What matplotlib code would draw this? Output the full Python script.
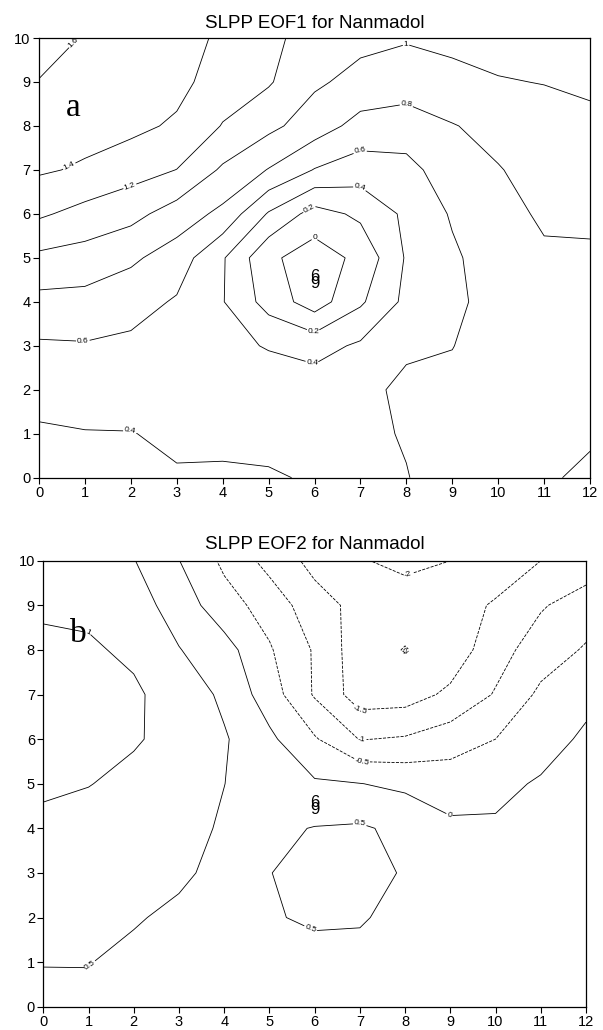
import matplotlib
matplotlib.use('Agg')
import matplotlib.pyplot as plt

plt.rcParams['font.family'] = ['Liberation Sans', 'DejaVu Sans']

# grid of the field (lon / lat index)
x_grid = [0, 1, 2, 3, 4, 5, 6, 7, 8, 9, 10, 11, 12]
y_grid = [0, 1, 2, 3, 4, 5, 6, 7, 8, 9, 10]

# EOF1 values, one row per y (bottom to top)
eof1 = [
    [0.30, 0.30, 0.32, 0.385, 0.37, 0.38, 0.42, 0.53, 0.595, 0.66, 0.72, 0.78, 0.83],
    [0.37, 0.39, 0.395, 0.43, 0.45, 0.46, 0.50, 0.57, 0.61, 0.67, 0.72, 0.77, 0.78],
    [0.48, 0.50, 0.478, 0.48, 0.47, 0.48, 0.50, 0.55, 0.64, 0.65, 0.71, 0.75, 0.76],
    [0.575, 0.585, 0.56, 0.53, 0.44, 0.39, 0.33, 0.43, 0.57, 0.595, 0.70, 0.74, 0.76],
    [0.742, 0.735, 0.676, 0.58, 0.41, 0.12, -0.10, 0.17, 0.45, 0.55, 0.69, 0.75, 0.77],
    [0.957, 0.92, 0.835, 0.705, 0.42, 0.04, -0.10, 0.05, 0.42, 0.57, 0.70, 0.77, 0.785],
    [1.23, 1.133, 1.062, 0.91, 0.75, 0.38, 0.12, 0.24, 0.44, 0.62, 0.73, 0.83, 0.82],
    [1.424, 1.375, 1.28, 1.197, 0.97, 0.79, 0.59, 0.50, 0.53, 0.72, 0.79, 0.87, 0.89],
    [1.51, 1.47, 1.45, 1.37, 1.19, 1.05, 0.90, 0.73, 0.72, 0.79, 0.86, 0.93, 0.96],
    [1.595, 1.54, 1.47, 1.46, 1.30, 1.22, 1.03, 0.94, 0.88, 0.94, 0.99, 1.005, 1.03],
    [1.66, 1.59, 1.52, 1.47, 1.37, 1.26, 1.10, 1.05, 1.02, 1.05, 1.06, 1.06, 1.08],
]

# EOF2 values
eof2 = [
    [0.42, 0.43, 0.36, 0.30, 0.25, 0.26, 0.30, 0.32, 0.30, 0.28, 0.27, 0.28, 0.30],
    [0.51, 0.51, 0.42, 0.35, 0.30, 0.32, 0.38, 0.40, 0.35, 0.32, 0.30, 0.30, 0.30],
    [0.62, 0.62, 0.53, 0.43, 0.38, 0.47, 0.55, 0.53, 0.40, 0.32, 0.30, 0.30, 0.30],
    [0.75, 0.75, 0.67, 0.56, 0.40, 0.49, 0.65, 0.63, 0.47, 0.30, 0.27, 0.27, 0.28],
    [0.90, 0.88, 0.80, 0.68, 0.44, 0.40, 0.52, 0.56, 0.38, 0.08, 0.06, 0.18, 0.25],
    [1.07, 1.01, 0.92, 0.78, 0.505, 0.25, 0.06, 0.01, -0.10, -0.20, -0.12, 0.05, 0.18],
    [1.15, 1.10, 1.03, 0.90, 0.55, 0.10, -0.45, -1.02, -0.95, -0.75, -0.50, -0.20, 0.08],
    [1.15, 1.12, 1.06, 0.82, 0.40, -0.25, -1.05, -1.75, -1.72, -1.40, -0.96, -0.40, -0.13],
    [1.07, 1.05, 0.93, 0.52, 0.20, -0.45, -1.05, -1.80, -2.02, -1.80, -1.20, -0.75, -0.45],
    [0.95, 0.92, 0.72, 0.28, -0.30, -0.70, -1.30, -1.65, -1.80, -1.70, -1.45, -1.05, -0.75],
    [0.85, 0.82, 0.52, 0.01, -0.60, -1.17, -1.65, -1.97, -2.10, -2.00, -1.77, -1.50, -1.30],
]

levels1 = [0, 0.2, 0.4, 0.6, 0.8, 1.0, 1.2, 1.4, 1.6]
levels2 = [-2, -1.5, -1, -0.5, 0, 0.5, 1]

# where the contour labels sit
labels1 = [(0.8, 9.85), (0.7, 7.0), (1.98, 6.62), (8.0, 9.83), (8.0, 8.49),
           (6.99, 7.43), (0.96, 3.2), (6.99, 6.66), (5.98, 2.72), (1.98, 1.06),
           (5.9, 6.08), (5.98, 3.33), (6.01, 5.74)]
labels2 = [(0.99, 8.38), (0.99, 0.96), (7.0, 4.2), (5.97, 1.88), (8.99, 4.32),
           (7.04, 5.53), (7.04, 6.03), (7.0, 6.65), (8.07, 9.68), (8.0, 8.0)]

storm_pos = (6.0, 4.5)

titles = ['SLPP EOF1 for Nanmadol', 'SLPP EOF2 for Nanmadol']
panel_tags = ['a', 'b']
tag_pos = [(0.74, 8.22), (0.77, 8.18)]

fig = plt.figure(figsize=(6.03, 10.30), dpi=100)
ax1 = fig.add_axes([0.0647, 0.5362, 0.9138, 0.4269])
ax2 = fig.add_axes([0.0718, 0.0226, 0.9000, 0.4330])

panels = [(ax1, eof1, levels1, labels1), (ax2, eof2, levels2, labels2)]
for i, (ax, field, levels, lab_pos) in enumerate(panels):
    styles = ['dashed' if lv < 0 else 'solid' for lv in levels]
    cs = ax.contour(x_grid, y_grid, field, levels=levels, colors='black',
                    linewidths=0.6, linestyles=styles)
    ax.clabel(cs, manual=lab_pos, inline=True, inline_spacing=1,
              fontsize=6, fmt='%g')

    # typhoon mark (6 over 9)
    ax.text(storm_pos[0], storm_pos[1], '6\n9', ha='center', va='center',
            fontsize=12, linespacing=0.3)

    ax.text(tag_pos[i][0], tag_pos[i][1], panel_tags[i], family='Liberation Serif',
            fontsize=24, ha='center', va='baseline')

    ax.set_xlim(0, 12)
    ax.set_ylim(0, 10)
    ax.set_xticks(x_grid)
    ax.set_yticks(y_grid)
    ax.tick_params(direction='out', length=4, width=0.8, pad=2, labelsize=10.5,
                   top=False, right=False)
    for sp in ax.spines.values():
        sp.set_linewidth(0.9)
    ax.set_title(titles[i], fontsize=13.5, pad=7 + i * 1.5)

plt.savefig('out.png', dpi=100)
